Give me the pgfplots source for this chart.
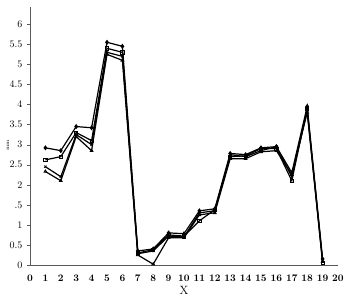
\documentclass[border=0pt]{standalone}
\usepackage{pgfplots}
\pgfplotsset{compat=1.18}
\begin{document}
\begin{tikzpicture}
\begin{axis}[
  anchor=origin, at={(0pt,0pt)},
  scale only axis, width=308pt, height=258pt,
  xmin=0, xmax=20, ymin=0, ymax=6.43,
  axis lines=left, axis line style={-, gray!70!black, line width=0.8pt},
  xtick={0,1,...,20}, ytick={0,0.5,...,6},
  yticklabels={0,0.5,1,.5,2,2.5,3,3.5,4,4.5,5,5.5,6},
  tick align=outside, major tick length=3pt,
  xtick style={draw=none}, ytick style={gray!70!black},
  tick label style={font=\normalsize\boldmath},
  xticklabel style={yshift=-4pt},
  yticklabel style={xshift=-1pt},
  xlabel={X},
  xlabel style={at={(axis description cs:0.5,0)}, anchor=north, yshift=-18pt, font=\large},
  every axis plot/.append style={black, line width=1.2pt, mark size=1.6pt},
  clip=false,
]
\addplot[mark=diamond*] coordinates {(1,2.92)(2,2.85)(3,3.45)(4,3.42)(5,5.55)(6,5.45)(7,0.35)(8,0.40)(9,0.80)(10,0.78)(11,1.35)(12,1.40)(13,2.78)(14,2.75)(15,2.92)(16,2.95)(17,2.30)(18,3.95)(19,0.15)};
\addplot[mark=square, mark options={fill=white, line width=0.8pt}] coordinates {(1,2.62)(2,2.70)(3,3.30)(4,3.10)(5,5.40)(6,5.30)(7,0.30)(8,0.38)(9,0.75)(10,0.72)(11,1.10)(12,1.38)(13,2.70)(14,2.72)(15,2.90)(16,2.90)(17,2.10)(18,3.90)(19,0.05)};
\addplot[mark=x, mark options={line width=0.8pt}] coordinates {(1,2.45)(2,2.20)(3,3.25)(4,3.00)(5,5.30)(6,5.20)(7,0.28)(8,0.35)(9,0.72)(10,0.70)(11,1.30)(12,1.35)(13,2.75)(14,2.70)(15,2.85)(16,2.95)(17,2.20)(18,3.85)(19,0.12)};
\addplot[mark=triangle, mark options={fill=white, line width=0.8pt}] coordinates {(1,2.33)(2,2.10)(3,3.20)(4,2.85)(5,5.25)(6,5.10)(7,0.25)(8,0.02)(9,0.68)(10,0.68)(11,1.25)(12,1.30)(13,2.65)(14,2.65)(15,2.82)(16,2.85)(17,2.25)(18,3.80)(19,0.08)};
\node[xshift=-22pt, rotate=90, font=\tiny] at (rel axis cs:0,0.465) {mm};
\end{axis}
\useasboundingbox (-30pt,-39pt) rectangle (319pt,265pt);
\end{tikzpicture}
\end{document}
